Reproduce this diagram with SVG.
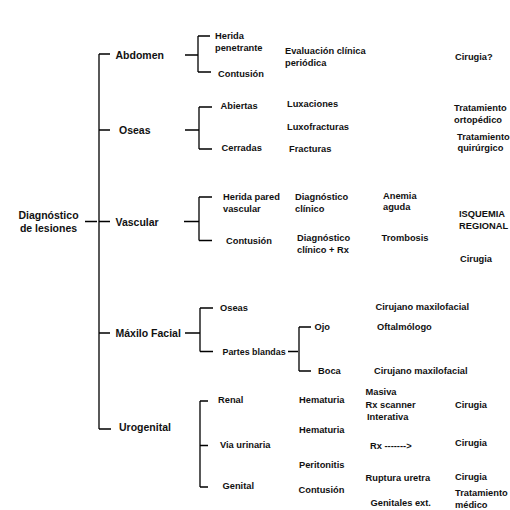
<svg xmlns="http://www.w3.org/2000/svg" width="510" height="510" viewBox="0 0 510 510">
<style>
text{font-family:"Liberation Sans",Arial,sans-serif;font-size:9.3px;font-weight:bold;fill:#111}
text.m{font-size:10.5px}
.c path{fill:none;stroke:#000;stroke-width:1.3}
</style>
<rect width="510" height="510" fill="#fff"/>
<g class="c" id="connectors">
<path d="M85 221.5H97M99 54V429M99 54H110M99 130H110M99 221.5H110M99 333H110M99 429H111"/>
<path d="M185 55H198M198 36V72M198 36H210M198 72H211"/>
<path d="M185 130H199M199 107V149M199 107H212M199 149H212"/>
<path d="M184 221.5H199M199 197V240.5M199 197H212M199 240.5H212"/>
<path d="M185 333H200M200 308V351.5M200 308H213M200 351.5H213"/>
<path d="M288 351.5H298M299 327V371M299 327H311M299 371H311"/>
<path d="M200 401V487M200 401H208M200 445.5H208M200 487H208"/>
</g>
<g id="root"><text class="m" x="48.5" y="218.5" text-anchor="middle">Diagnóstico</text><text class="m" x="48.5" y="232" text-anchor="middle">de lesiones</text></g>
<g id="abdomen"><text class="m" x="115.5" y="59">Abdomen</text></g>
<g id="oseas"><text class="m" x="119" y="134">Oseas</text></g>
<g id="vascular"><text class="m" x="115.5" y="225.5">Vascular</text></g>
<g id="maxilo"><text class="m" x="115.5" y="336.5">Máxilo Facial</text></g>
<g id="urogenital"><text class="m" x="119" y="430.5">Urogenital</text></g>
<g id="abdomen-items">
<text x="215" y="38.5">Herida</text><text x="215" y="51">penetrante</text>
<text x="218" y="76.5">Contusión</text>
<text x="285" y="53.5">Evaluación clínica</text><text x="285" y="66">periódica</text>
<text x="455" y="59.5">Cirugia?</text>
</g>
<g id="oseas-items">
<text x="220.5" y="109">Abiertas</text>
<text x="221.5" y="151">Cerradas</text>
<text x="287" y="106.5">Luxaciones</text>
<text x="287" y="130">Luxofracturas</text>
<text x="289" y="151.5">Fracturas</text>
<text x="454" y="110.5">Tratamiento</text><text x="454" y="122.5">ortopédico</text>
<text x="457" y="139.5">Tratamiento</text><text x="457.5" y="151">quirúrgico</text>
</g>
<g id="vascular-items">
<text x="223" y="200">Herida pared</text><text x="223" y="211.5">vascular</text>
<text x="226" y="243.5">Contusión</text>
<text x="295" y="200">Diagnóstico</text><text x="295" y="211.5">clínico</text>
<text x="297" y="241">Diagnóstico</text><text x="297" y="252.5">clínico + Rx</text>
<text x="383" y="198.5">Anemia</text><text x="383" y="209.5">aguda</text>
<text x="381.5" y="241">Trombosis</text>
<text x="459" y="216.5">ISQUEMIA</text><text x="459" y="228.5">REGIONAL</text>
<text x="460" y="262">Cirugia</text>
</g>
<g id="maxilo-items">
<text x="220" y="311">Oseas</text>
<text x="222.5" y="355" style="font-size:8.9px">Partes blandas</text>
<text x="314.5" y="329.5">Ojo</text>
<text x="318" y="373.5">Boca</text>
<text x="375.5" y="309.5">Cirujano maxilofacial</text>
<text x="377" y="329.5">Oftalmólogo</text>
<text x="374" y="373.5">Cirujano maxilofacial</text>
</g>
<g id="urogenital-items">
<text x="218" y="402.5">Renal</text>
<text x="220" y="447.5">Via urinaria</text>
<text x="222.5" y="488.5">Genital</text>
<text x="299" y="402.5">Hematuria</text>
<text x="299" y="432.5">Hematuria</text>
<text x="299" y="467.5">Peritonitis</text>
<text x="298.5" y="492.5">Contusión</text>
<text x="365.5" y="395">Masiva</text>
<text x="365.5" y="407.5">Rx scanner</text>
<text x="367" y="420">Interativa</text>
<text x="370" y="449">Rx -------&gt;</text>
<text x="365.5" y="481">Ruptura uretra</text>
<text x="370.5" y="506">Genitales ext.</text>
<text x="455" y="407.5">Cirugia</text>
<text x="455" y="446">Cirugia</text>
<text x="455" y="479.5">Cirugia</text>
<text x="455" y="496">Tratamiento</text><text x="455" y="508">médico</text>
</g>
</svg>
